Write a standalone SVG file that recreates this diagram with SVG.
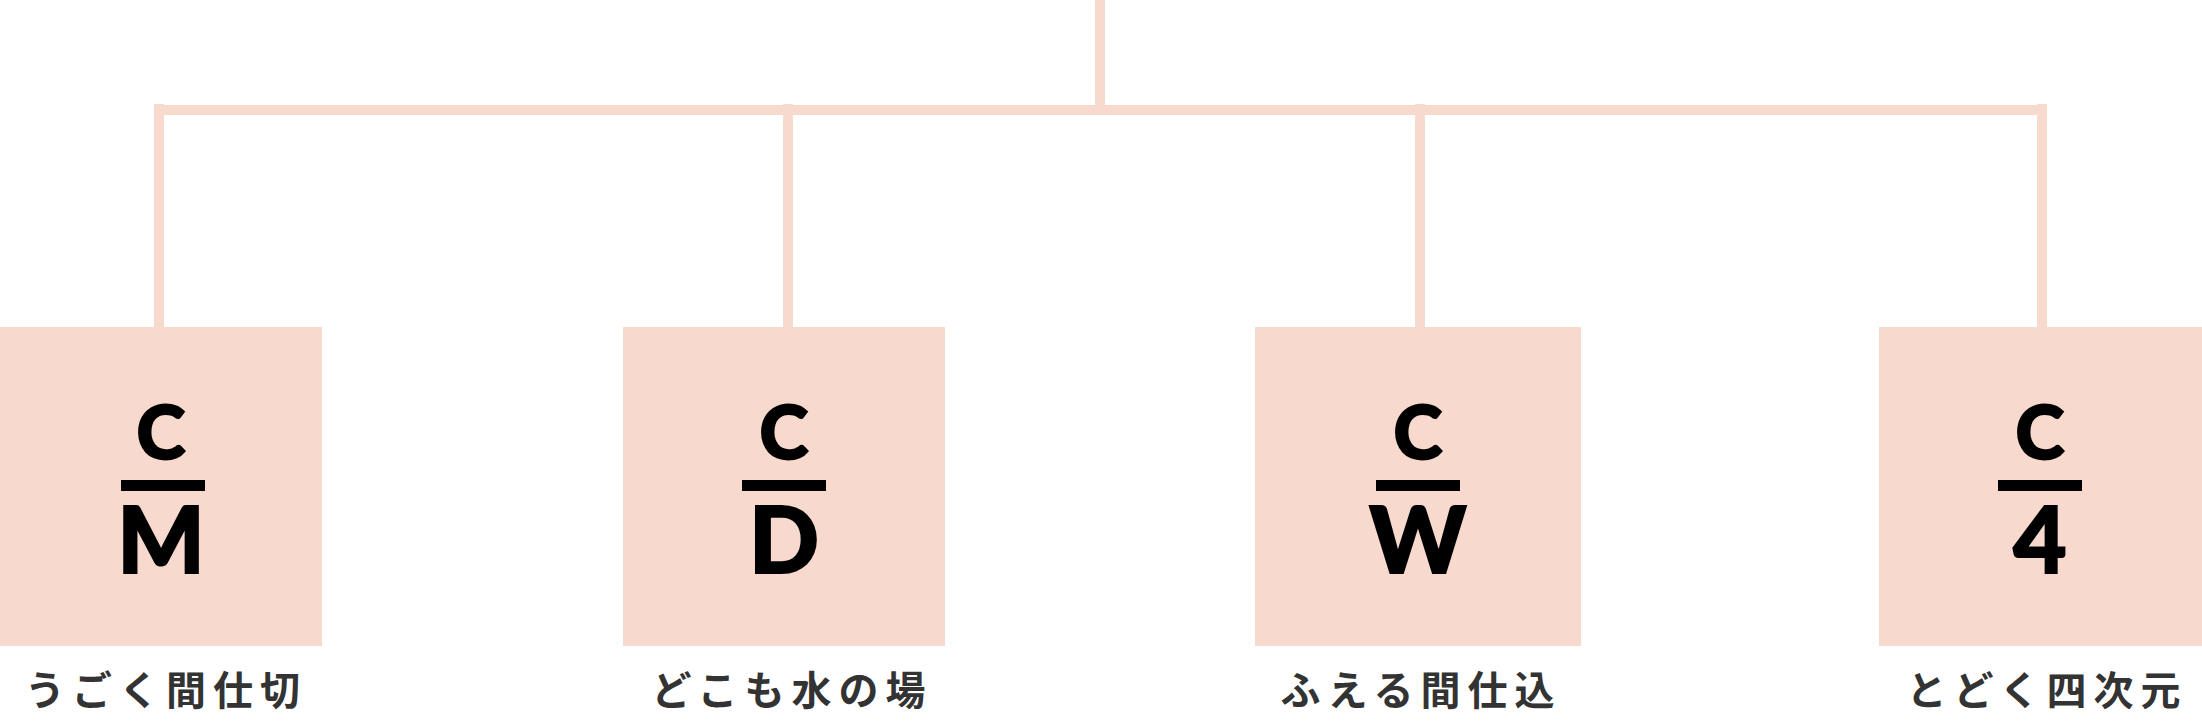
<svg xmlns="http://www.w3.org/2000/svg" width="2202" height="721" viewBox="0 0 2202 721">
<style>
.box{fill:#f8d9cd}
.ln{stroke:#f8d9cd;stroke-width:10;fill:none}
.c{font-family:Lato,"Liberation Sans",sans-serif;font-weight:900;font-size:74px;fill:#000;text-anchor:middle;stroke:#000;stroke-width:2}
.b{font-family:Lato,"Liberation Sans",sans-serif;font-weight:900;font-size:92px;fill:#000;text-anchor:middle;stroke:#000;stroke-width:2}
.lb{font-family:"Noto Sans CJK JP",sans-serif;font-weight:700;font-size:40px;fill:#333;text-anchor:middle;letter-spacing:7px}
</style>
<g id="connectors">
<path class="ln" d="M1100 0V110M159 104V327M154 110H2047M788 104V327M1420 104V327M2042 104V327"/>
</g>
<g id="n1"><rect class="box" x="0" y="327" width="322" height="319"/><text class="c" x="161" y="459">C</text><rect x="121" y="480" width="84" height="11"/><text class="b" x="161" y="573">M</text><text class="lb" x="166" y="705">うごく間仕切</text></g>
<g id="n2"><rect class="box" x="623" y="327" width="322" height="319"/><text class="c" x="784" y="459">C</text><rect x="742" y="480" width="84" height="11"/><text class="b" x="784" y="573">D</text><text class="lb" x="792" y="705">どこも水の場</text></g>
<g id="n3"><rect class="box" x="1255" y="327" width="326" height="319"/><text class="c" x="1418" y="459">C</text><rect x="1376" y="480" width="84" height="11"/><text class="b" x="1418" y="573">W</text><text class="lb" x="1421" y="705">ふえる間仕込</text></g>
<g id="n4"><rect class="box" x="1879" y="327" width="323" height="319"/><text class="c" x="2040" y="459">C</text><rect x="1998" y="480" width="84" height="11"/><text class="b" x="2040" y="573">4</text><text class="lb" x="2047" y="705">とどく四次元</text></g>
</svg>
